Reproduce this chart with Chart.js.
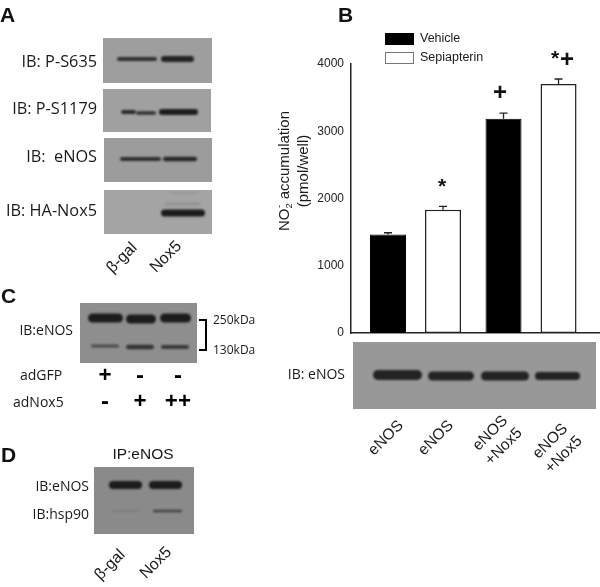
<!DOCTYPE html>
<html>
<head>
<meta charset="utf-8">
<script src="https://cdn.jsdelivr.net/npm/chart.js@4"></script>
<style>
body { margin: 0; background: #fff; }
canvas { display: block; }
</style>
</head>
<body>
<canvas id="figure" width="600" height="587"></canvas>
<script>
// values
const groups = ['eNOS', 'eNOS+Nox5'];
const seriesNames = ['Vehicle', 'Sepiapterin'];
const vehicle = [1466, 3185];
const sepiapterin = [1833, 3702];
const vehicleErr = [25, 85];
const sepiapterinErr = [50, 75];
const yTicks = [0, 1000, 2000, 3000, 4000];

const laneLabels = [['eNOS'], ['eNOS'], ['eNOS', '+Nox5'], ['eNOS', '+Nox5']];

const sansFont = '"Open Sans"';
const armFont = '"Liberation Sans"';

// western blot strips: [x, y, w, h, grey], bands: [x, y, w, h, alpha]
const blots = [
    { box: [103, 38, 109, 45, '#9e9e9e'], bands: [[117, 59, 40, 4, .85], [161, 59, 33, 6, .95]] },
    { box: [103, 89, 108, 43, '#a0a0a0'], bands: [[121, 112, 15, 4, .9], [136, 113, 20, 3.5, .85], [159, 112, 39, 6, 1]] },
    { box: [104, 138, 108, 44, '#9c9c9c'], bands: [[120, 159, 41, 4, .85], [163, 159, 34, 4.5, .9]] },
    { box: [104, 190, 108, 44, '#a4a4a4'], bands: [[161, 213, 44, 7, 1], [165, 204, 35, 2.5, .15], [170, 193, 28, 2, .08]] },
    { box: [80, 303, 117, 60, '#8e8e8e'], bands: [[88, 318, 35, 9, 1], [126, 319, 30, 9, 1], [160, 318, 31, 9, 1], [91, 346, 28, 3, .6], [126, 347, 28, 4.5, .8], [161, 347, 28, 4, .75]] },
    { box: [94, 467, 100, 67, '#8a8a8a'], bands: [[109, 485, 33, 8, 1], [149, 485, 33, 8, 1], [112, 511, 28, 1.5, .12], [153, 511, 29, 2.5, .65]] },
    { box: [353, 342, 243, 67, '#989898'], bands: [[373, 375, 49, 10, .95], [428, 376, 46, 9, .95], [481, 376, 48, 9, .95], [535, 376, 45, 8, .95]] }
];

// rotated sample names under the strips
const rotatedLabels = [
    ['\u03b2-gal', 122, 258], ['Nox5', 166, 257],
    ['\u03b2-gal', 110, 565], ['Nox5', 156, 563]
];
const leftLabelsLarge = [
    ['IB: P-S635', 97, 62], ['IB: P-S1179', 97, 109], ['IB:  eNOS', 97, 157], ['IB: HA-Nox5', 97, 211]
];
const leftLabels = [
    ['IB:eNOS', 73, 331], ['IB:eNOS', 89, 487], ['IB:hsp90', 89, 515], ['IB: eNOS', 345, 375]
];
const panelLetters = [['A', 0, 16], ['B', 338, 16], ['C', 1, 297], ['D', 1, 456]];
const lanePlaces = [[386, 438], [436, 438], [497, 440], [557, 448]];

function text(ctx, str, x, y, font, align, color) {
    ctx.font = font;
    ctx.textAlign = align || 'left';
    ctx.textBaseline = 'middle';
    ctx.fillStyle = color || '#1a1a1a';
    ctx.fillText(str, x, y);
}

function yTitle(ctx) {
    const big = '15px ' + armFont;
    const small = '9.5px ' + armFont;
    ctx.save();
    ctx.translate(285, 171);
    ctx.rotate(-Math.PI / 2);
    ctx.font = big;
    const noW = ctx.measureText('NO').width;
    const restW = ctx.measureText(' accumulation').width;
    const startX = -(noW + 5 + restW) / 2;
    text(ctx, 'NO', startX, 0, big);
    text(ctx, '2', startX + noW, 4, small);
    text(ctx, '-', startX + noW + .5, -6, small);
    text(ctx, ' accumulation', startX + noW + 5, 0, big);
    text(ctx, '(pmol/well)', 0, 19, big, 'center');
    ctx.restore();
}

const figurePlugin = {
    id: 'figure',
    beforeDraw(chart) {
        const ctx = chart.ctx;
        ctx.save();
        blots.forEach(b => {
            ctx.fillStyle = b.box[4];
            ctx.fillRect(b.box[0], b.box[1], b.box[2], b.box[3]);
            ctx.save();
            ctx.beginPath();
            ctx.rect(b.box[0], b.box[1], b.box[2], b.box[3]);
            ctx.clip();
            ctx.filter = 'blur(1.3px)';
            b.bands.forEach(([x, y, w, h, a]) => {
                ctx.fillStyle = 'rgba(28,28,28,' + a + ')';
                ctx.beginPath();
                ctx.roundRect(x, y - h / 2, w, h, h / 2);
                ctx.fill();
            });
            ctx.restore();
        });

        panelLetters.forEach(([s, x, y]) => {
            text(ctx, s, x, y, 'bold 21px ' + armFont, 'left', '#111');
        });
        leftLabelsLarge.forEach(([s, x, y]) => text(ctx, s, x, y, '16.3px ' + sansFont, 'right'));
        leftLabels.forEach(([s, x, y]) => text(ctx, s, x, y, '14px ' + sansFont, 'right'));
        rotatedLabels.forEach(([s, x, y]) => {
            ctx.save();
            ctx.translate(x, y);
            ctx.rotate(-Math.PI / 4);
            text(ctx, s, 0, 0, '16px ' + armFont, 'center');
            ctx.restore();
        });

        // panel C
        text(ctx, '250kDa', 213, 321, '12px ' + sansFont);
        text(ctx, '130kDa', 213, 351, '12px ' + sansFont);
        text(ctx, 'adGFP', 20, 376, '14px ' + sansFont);
        text(ctx, 'adNox5', 13, 403, '14px ' + sansFont);
        [['+', 105, 376], ['-', 140, 376], ['-', 178, 376], ['-', 105, 402], ['+', 140, 402], ['++', 178, 402]].forEach(([s, x, y]) => {
            text(ctx, s, x, y, 'bold 23px ' + sansFont, 'center', '#000');
        });
        ctx.strokeStyle = '#000';
        ctx.lineWidth = 2;
        ctx.beginPath();
        ctx.moveTo(199, 320);
        ctx.lineTo(206, 320);
        ctx.lineTo(206, 350);
        ctx.lineTo(199, 350);
        ctx.stroke();

        // panel D
        text(ctx, 'IP:eNOS', 143, 455, '15.5px ' + armFont, 'center');

        // panel B legend
        [[33, '#000'], [52, '#fff']].forEach(([y, fill], i) => {
            ctx.fillStyle = fill;
            ctx.fillRect(385.5, y + .5, 28, 11);
            ctx.strokeStyle = i ? '#777' : '#000';
            ctx.lineWidth = 1;
            ctx.strokeRect(385.5, y + .5, 28, 11);
            text(ctx, seriesNames[i], 420, y + 6, '12.5px ' + armFont);
        });

        yTitle(ctx);

        // lane names under the panel B strip
        laneLabels.forEach((lines, i) => {
            ctx.save();
            ctx.translate(lanePlaces[i][0], lanePlaces[i][1]);
            ctx.rotate(-Math.PI / 4);
            lines.forEach((s, j) => {
                text(ctx, s, 0, (j - (lines.length - 1) / 2) * 19, '15.5px ' + armFont, 'center');
            });
            ctx.restore();
        });
        ctx.restore();
    },
    afterDatasetsDraw(chart) {
        const ctx = chart.ctx;
        const errs = [vehicleErr, sepiapterinErr];
        const y = chart.scales.y;
        ctx.save();
        ctx.strokeStyle = '#222';
        ctx.lineWidth = 1.3;
        chart.data.datasets.forEach((ds, d) => {
            chart.getDatasetMeta(d).data.forEach((bar, i) => {
                const top = y.getPixelForValue(ds.data[i].y + errs[d][i]);
                ctx.beginPath();
                ctx.moveTo(bar.x, bar.y);
                ctx.lineTo(bar.x, top);
                ctx.moveTo(bar.x - 4, top);
                ctx.lineTo(bar.x + 4, top);
                ctx.stroke();
            });
        });
        // significance marks
        text(ctx, '*', 442, 187, 'bold 21px ' + armFont, 'center', '#111');
        text(ctx, '+', 500, 93, 'bold 24px ' + armFont, 'center', '#111');
        text(ctx, '*', 555, 59, 'bold 21px ' + armFont, 'center', '#111');
        text(ctx, '+', 567, 60, 'bold 24px ' + armFont, 'center', '#111');
        ctx.restore();
    }
};

new Chart(document.getElementById('figure'), {
    type: 'bar',
    data: {
        datasets: [
            {
                label: seriesNames[0],
                data: vehicle.map((v, i) => ({ x: i + 1, y: v })),
                backgroundColor: '#000',
                borderColor: '#000',
                borderWidth: 1
            },
            {
                label: seriesNames[1],
                data: sepiapterin.map((v, i) => ({ x: i + 1, y: v })),
                backgroundColor: '#fff',
                borderColor: '#222',
                borderWidth: 1.5,
                borderSkipped: false
            }
        ]
    },
    options: {
        responsive: false,
        animation: false,
        categoryPercentage: 0.9524,
        barPercentage: 0.6545,
        layout: { padding: { left: 275, top: 64, right: 0, bottom: 254 } },
        plugins: { legend: { display: false }, tooltip: { enabled: false } },
        scales: {
            x: {
                type: 'linear',
                offset: false,
                min: 0.4416,
                max: 2.597,
                afterBuildTicks: s => { s.ticks = groups.map((g, i) => ({ value: i + 1 })); },
                ticks: { display: false },
                grid: { display: false, drawTicks: false },
                border: { color: '#222', width: 1.5 },
                afterFit: s => { s.height = 0; }
            },
            y: {
                min: 0,
                max: 4000,
                afterBuildTicks: s => { s.ticks = yTicks.map(v => ({ value: v })); },
                ticks: { font: { family: 'Liberation Sans', size: 12 }, color: '#222', padding: 2, callback: v => String(v) },
                grid: { display: false, drawTicks: true, tickLength: 5, tickColor: '#222' },
                border: { color: '#222', width: 1.5 },
                afterFit: s => { s.width = 76; }
            }
        }
    },
    plugins: [figurePlugin]
});
</script>
</body>
</html>
